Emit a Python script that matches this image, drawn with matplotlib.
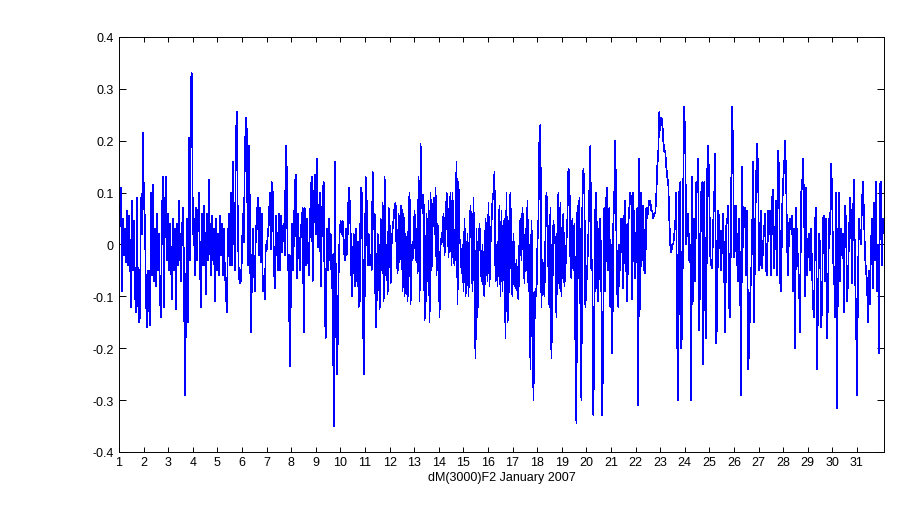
import numpy as np
import matplotlib
matplotlib.use("Agg")
import matplotlib.pyplot as plt

# dM(3000)F2 deviations, January 2007 (approx. hourly samples)
seg1 = [0.06, 0.11, -0.09, 0.05, -0.02, 0.03, -0.035, 0.065, -0.04, 0.055,
        -0.01, -0.12, 0.085, -0.05, 0.045, -0.09, -0.13, 0.09, -0.1, -0.15,
        -0.14, 0.09, 0.02, 0.215, 0.08, 0.05, -0.1, -0.16, -0.05, -0.11,
        -0.155, 0.1, -0.06, 0.115, -0.07, 0.03, -0.08, 0.06, -0.05, 0.02,
        -0.1, -0.14, 0.05, 0.13, -0.12, 0.06, 0.13, -0.03, 0.06, -0.05,
        0.04, -0.02, -0.105, 0.05, -0.05, 0.03, -0.125, 0.04, -0.04, 0.085,
        0.0, -0.07, 0.02, 0.07, -0.03, -0.29, -0.145, 0.05, -0.15, 0.205,
        -0.03, 0.32, 0.33, 0.02, 0.05, -0.06, 0.07, -0.03, 0.04, 0.1,
        -0.02, -0.12, 0.06, -0.04, 0.075, 0.01, -0.095, 0.06, -0.03, 0.125,
        0.02, -0.06, 0.055, -0.03, 0.03, -0.11, 0.05, -0.05, 0.02, -0.06,
        0.055, -0.02, 0.04, -0.06, 0.03, -0.05, -0.09, -0.13, 0.0, 0.06,
        -0.04, 0.1, -0.04, 0.16, 0.05, -0.05, 0.2, 0.255, 0.04, -0.06,
        -0.075]
seg2 = [-0.07, -0.03, 0.06, 0.005, 0.165, 0.245, 0.22, -0.04, 0.19, 0.08,
        -0.17, -0.08, 0.03, -0.03, -0.09, 0.02, 0.05, 0.09, -0.02, 0.07,
        -0.035, 0.06, -0.09, -0.06, -0.105, 0.0, -0.01, 0.02, 0.04, 0.1,
        -0.01, 0.12, 0.1, -0.03, -0.085, 0.055, 0.02, -0.05, 0.06, -0.05,
        0.055, -0.015, 0.03, 0.04, -0.02, 0.19, 0.145, -0.05, -0.02, -0.235,
        -0.11, 0.04, -0.05, 0.0, 0.11, 0.135, -0.065, 0.06, 0.01, -0.05,
        0.02, 0.05, 0.07, -0.17, 0.07, -0.04, 0.05, 0.0, -0.06, 0.02,
        0.1, 0.13, -0.07, 0.05, 0.135, 0.02, 0.165, -0.005, 0.04, 0.1,
        -0.08, 0.02, 0.105, 0.12, -0.12, -0.18, 0.03, -0.05, 0.05, -0.03,
        0.02, -0.085, -0.02, -0.35, 0.16, -0.05, -0.25, -0.19, -0.05, 0.025,
        0.045, 0.02, 0.045, 0.0, -0.03, 0.03, -0.02, 0.02, 0.11, 0.085,
        0.02, -0.1, -0.055, 0.02, -0.08, 0.03, -0.07, 0.005, -0.12, -0.11,
        0.11, 0.1, -0.03, -0.25, -0.1, 0.13, 0.085, -0.04, 0.02, -0.04]
seg3 = [-0.02, -0.05, 0.14, 0.03, 0.06, -0.16, -0.11, 0.02, 0.0, -0.125,
        0.05, -0.05, 0.08, -0.11, 0.13, -0.06, 0.0, -0.095, 0.07, 0.04,
        -0.075, 0.0, 0.03, 0.05, 0.075, 0.08, -0.02, -0.055, 0.06, -0.035,
        0.075, 0.075, -0.09, 0.06, -0.1, 0.02, -0.055, -0.11, 0.07, 0.1,
        -0.115, 0.0, -0.03, 0.02, 0.065, -0.03, 0.03, -0.055, 0.13, -0.11,
        0.195, 0.1, 0.06, 0.095, -0.145, -0.125, 0.06, -0.07, 0.085, -0.15,
        0.1, -0.05, 0.04, 0.09, 0.02, 0.11, -0.06, 0.04, 0.0, -0.14,
        0.01, 0.0, 0.03, 0.06, -0.02, 0.02, 0.1, 0.08, -0.025, 0.065,
        0.1, -0.04, 0.1, -0.025, -0.04, 0.045, 0.16, -0.115, 0.12, 0.01,
        0.0, -0.055, 0.0, -0.09, 0.05, -0.1, -0.065, 0.02, -0.1, 0.02,
        0.075, 0.0, -0.09, 0.09, -0.1, -0.22, 0.03, -0.14, -0.02, 0.04,
        -0.02, -0.07, 0.0, -0.09, -0.1, 0.05, 0.0, -0.07, 0.08, -0.08,
        0.0, 0.04, 0.085, 0.1, 0.14, -0.07, 0.0, -0.08, 0.02, 0.075]
seg4 = [-0.1, 0.065, -0.09, 0.02, 0.05, -0.18, 0.1, -0.15, -0.13, 0.07,
        0.1, -0.065, -0.1, 0.02, -0.05, -0.085, -0.03, -0.095, -0.105, 0.01,
        0.05, -0.03, 0.07, 0.02, -0.075, 0.03, -0.05, 0.085, -0.09, 0.0,
        -0.24, 0.045, -0.035, -0.3, -0.16, -0.085, -0.1, 0.0, 0.05, 0.21,
        0.23, -0.12, -0.03, -0.05, -0.1, 0.015, 0.1, 0.065, -0.05, -0.12,
        0.07, -0.22, -0.095, 0.045, 0.02, 0.0, -0.14, 0.03, 0.1, -0.085,
        0.08, -0.1, 0.03, 0.06, -0.08, -0.05, 0.0, 0.05, 0.145, 0.14,
        -0.03, -0.065, 0.05, -0.05, 0.04, -0.19, -0.345, 0.075, -0.065, 0.09,
        -0.12, -0.3, 0.08, 0.145, 0.115, -0.12, -0.08, -0.04, 0.02, 0.11,
        0.19, -0.05, -0.03, -0.33, -0.16, 0.07, 0.1, -0.085, -0.11, 0.03,
        0.05, -0.09, -0.33, -0.13, 0.07, -0.09, 0.09, 0.11, -0.05, 0.07,
        -0.12, 0.0, -0.21, 0.04, 0.1, 0.2, 0.03, -0.095, -0.12, 0.0,
        -0.05, 0.05, 0.05, -0.085, 0.055, 0.085, -0.05, -0.11, 0.04, 0.07]
seg5 = [0.1, 0.085, -0.105, 0.1, 0.0, -0.065, 0.02, 0.07, -0.31, 0.165,
        -0.125, 0.1, -0.03, 0.075, -0.05, -0.055, 0.07, 0.05, 0.07, 0.085,
        0.085, 0.065, 0.065, 0.05, 0.06, 0.06, 0.095, 0.15, 0.175, 0.255,
        0.22, 0.245, 0.24, 0.2, 0.18, 0.18, 0.15, 0.13, 0.12, 0.05,
        0.0, -0.015, 0.0, 0.0, 0.02, 0.04, 0.1, -0.19, -0.3, 0.1,
        0.12, -0.2, -0.16, 0.11, 0.265, 0.2, 0.0, 0.035, 0.06, -0.03,
        0.0, -0.3, 0.13, -0.11, 0.05, -0.07, 0.12, 0.1, 0.165, -0.165,
        -0.025, 0.1, 0.12, -0.23, 0.12, -0.12, -0.18, 0.14, 0.19, 0.11,
        -0.02, -0.04, -0.045, 0.04, 0.09, 0.175, -0.19, -0.14, 0.065, 0.05,
        0.0, -0.05, 0.02, 0.06, -0.05, -0.17, 0.035, 0.045, 0.075, -0.12,
        -0.14, 0.1, 0.265, 0.17, -0.025, 0.0, 0.075, -0.035, -0.07, 0.05,
        -0.08, -0.29, 0.15, -0.005, 0.07, 0.07, -0.06, 0.065, -0.24, -0.2,
        -0.1, -0.06, 0.02, 0.16, -0.15, 0.03, 0.13, 0.195, 0.14, -0.05]
seg6 = [-0.03, 0.065, -0.045, 0.0, 0.03, 0.06, -0.05, -0.06, 0.065, 0.02,
        0.065, -0.06, 0.09, 0.105, -0.045, 0.02, 0.085, -0.06, 0.18, 0.14,
        -0.07, -0.09, 0.065, 0.12, 0.15, 0.2, 0.13, 0.0, -0.06, 0.04,
        0.05, 0.03, 0.055, -0.09, 0.03, -0.2, 0.07, 0.0, -0.03, -0.08,
        -0.17, 0.1, 0.11, 0.165, 0.08, -0.1, 0.11, -0.06, 0.0, 0.02,
        -0.05, 0.03, -0.05, -0.12, -0.14, 0.045, 0.07, -0.24, -0.1, 0.02,
        0.0, -0.16, -0.12, 0.05, 0.055, -0.07, 0.05, -0.18, -0.1, 0.05,
        0.02, 0.155, 0.11, -0.03, -0.05, -0.14, 0.1, -0.315, 0.0, 0.1,
        -0.07, 0.03, -0.02, 0.02, -0.13, 0.075, 0.045, -0.11, -0.07, 0.02,
        0.09, 0.055, -0.075, 0.055, 0.125, -0.055, -0.13, -0.29, -0.06, 0.05,
        0.015, 0.0, 0.085, 0.12, 0.055, -0.02, -0.05, -0.07, -0.15, -0.05,
        -0.115, 0.0, 0.05, -0.085, 0.08, -0.03, 0.12, -0.09, 0.0, -0.21,
        0.115, 0.12, -0.04, 0.05, 0.03]

first_day = 1.04
last_day = 32.1
x_ticks = list(range(1, 32))
y_ticks = [-0.4, -0.3, -0.2, -0.1, 0, 0.1, 0.2, 0.3, 0.4]
y_tick_labels = ["-0.4", "-0.3", "-0.2", "-0.1", "0", "0.1", "0.2", "0.3", "0.4"]
x_label = "dM(3000)F2 January 2007"

values = np.array(seg1 + seg2 + seg3 + seg4 + seg5 + seg6)
days = np.linspace(first_day, last_day, len(values))

plt.rcParams["font.family"] = ["Liberation Sans", "DejaVu Sans"]
plt.rcParams["axes.unicode_minus"] = False

fig = plt.figure(figsize=(9.21, 5.10), dpi=100)
ax = fig.add_axes([0.1292, 0.1118, 0.8306, 0.8137])
ax.plot(days, values, color=(0, 0, 1), linewidth=0.5, antialiased=False)

ax.set_xlim(1, last_day)
ax.set_ylim(-0.4, 0.4)
ax.set_xticks(x_ticks)
ax.set_xticklabels([str(t) for t in x_ticks])
ax.set_yticks(y_ticks)
ax.set_yticklabels(y_tick_labels)
ax.tick_params(axis="both", direction="in", labelsize=9, top=True, right=True,
               width=0.7, colors="black")
ax.tick_params(axis="y", length=5, pad=4)
ax.tick_params(axis="x", length=3.6, pad=3)
for s in ax.spines.values():
    s.set_linewidth(0.7)
ax.set_xlabel(x_label, fontsize=9, labelpad=2)

fig.savefig("out.png", dpi=100, facecolor="white")
